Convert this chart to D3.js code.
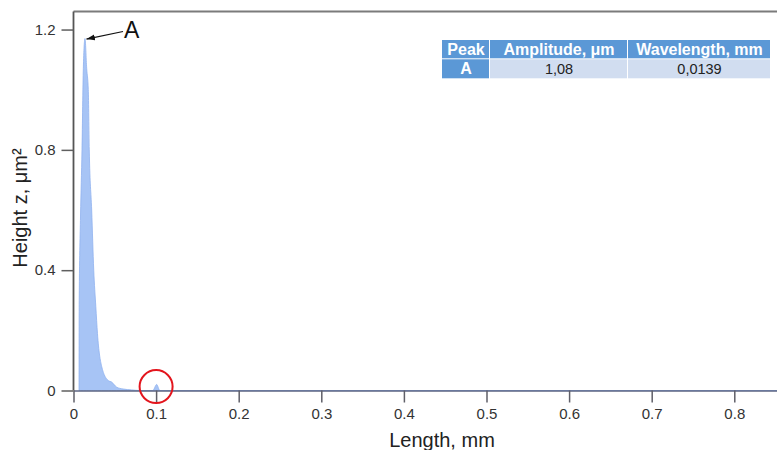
<!DOCTYPE html>
<html>
<head>
<meta charset="utf-8">
<script src="https://cdn.jsdelivr.net/npm/d3@7"></script>
<style>
  body { margin: 0; background: #fff; }
  svg { display: block; font-family: "Liberation Sans", Arial, sans-serif; }
</style>
</head>
<body>
<svg id="chart" width="777" height="450"></svg>
<script>
// spectrum values (length mm, height)
var lengths = [0.0067, 0.0069, 0.0085, 0.0103, 0.0119, 0.0139, 0.0160, 0.0179, 0.0191, 0.0220, 0.0245, 0.0270, 0.0290, 0.0341, 0.0421, 0.0462, 0.0523, 0.0600, 0.0705, 0.0800, 0.0960, 0.1007, 0.1045, 0.8600];
var heights = [0, 0.30, 0.58, 0.80, 1.07, 1.17, 1.07, 1.00, 0.80, 0.60, 0.40, 0.28, 0.19, 0.08, 0.033, 0.028, 0.011, 0.005, 0.002, 0, 0, 0.02, 0, 0];

var xMajorTicks = [0, 0.1, 0.2, 0.3, 0.4, 0.5, 0.6, 0.7, 0.8];
var xMinorTicks = [0.05, 0.15, 0.25, 0.35, 0.45, 0.55, 0.65, 0.75, 0.85];
var yMajorTicks = [0, 0.4, 0.8, 1.2];
var yMinorTicks = [0.2, 0.6, 1.0];

var tableHeader = ["Peak", "Amplitude, \u03bcm", "Wavelength, mm"];
var tableRow = ["A", "1,08", "0,0139"];

var peakLabel = "A";
var peakLength = 0.0139, peakHeight = 1.17;
var markLength = 0.1, markHeight = 0.013;

var svg = d3.select("#chart");

var x = d3.scaleLinear().domain([0, 0.8517]).range([73.5, 777]);
var y = d3.scaleLinear().domain([0, 1.26]).range([390.5, 11.5]);

var data = lengths.map(function (d, i) { return { x: d, y: heights[i] }; });

// filled spectrum
var area = d3.area()
  .curve(d3.curveMonotoneX)
  .x(function (d) { return x(d.x); })
  .y0(y(0))
  .y1(function (d) { return y(d.y); });

svg.append("path")
  .datum(data)
  .attr("d", area)
  .attr("fill", "#a7c4f5")
  .attr("stroke", "#8fb1ef")
  .attr("stroke-width", 0.8);

// top frame line
svg.append("line")
  .attr("x1", x(0)).attr("x2", 777)
  .attr("y1", 11.5).attr("y2", 11.5)
  .attr("stroke", "#7b7b7b").attr("stroke-width", 1.8);

// x axis
var xAxis = svg.append("g").attr("transform", "translate(0," + y(0) + ")");
xAxis.call(d3.axisBottom(x).tickValues(xMinorTicks).tickSize(6).tickFormat(""));
xAxis.call(d3.axisBottom(x).tickValues(xMajorTicks).tickSize(12).tickSizeOuter(0).tickPadding(6).tickFormat(d3.format("~g")));
xAxis.selectAll(".domain").attr("stroke", "#5d6482").attr("stroke-width", 1.6);
xAxis.selectAll(".tick line").attr("stroke", "#5f5f68").attr("stroke-width", 1.5);
xAxis.selectAll(".tick text").attr("font-size", 15).attr("fill", "#333");

// y axis
var yAxis = svg.append("g").attr("transform", "translate(" + x(0) + ",0)");
yAxis.call(d3.axisLeft(y).tickValues(yMinorTicks).tickSize(7).tickFormat(""));
yAxis.call(d3.axisLeft(y).tickValues(yMajorTicks).tickSize(12).tickSizeOuter(0).tickPadding(6).tickFormat(d3.format("~g")));
yAxis.selectAll(".domain").attr("stroke", "#555").attr("stroke-width", 1.8)
  .attr("d", "M0," + 11.5 + "V" + y(0));
yAxis.selectAll(".tick line").attr("stroke", "#5f5f5f").attr("stroke-width", 1.5);
yAxis.selectAll(".tick text").attr("font-size", 15).attr("fill", "#333");

// axis titles
svg.append("text")
  .attr("x", 442).attr("y", 447)
  .attr("text-anchor", "middle")
  .attr("font-size", 20).attr("fill", "#222")
  .text("Length, mm");

svg.append("text")
  .attr("transform", "translate(26.5,208) rotate(-90)")
  .attr("text-anchor", "middle")
  .attr("font-size", 20).attr("fill", "#222")
  .text("Height z, \u03bcm\u00b2");

// peak annotation
svg.append("defs").append("marker")
  .attr("id", "arrow")
  .attr("viewBox", "0 0 10 10")
  .attr("refX", 10).attr("refY", 5)
  .attr("markerWidth", 7).attr("markerHeight", 7)
  .attr("orient", "auto")
  .append("path").attr("d", "M0,1.5L10,5L0,8.5Z").attr("fill", "#111");

svg.append("line")
  .attr("x1", 123).attr("y1", 31.5)
  .attr("x2", x(peakLength) + 1.5).attr("y2", y(peakHeight) + 0.5)
  .attr("stroke", "#111").attr("stroke-width", 1.2)
  .attr("marker-end", "url(#arrow)");

svg.append("text")
  .attr("x", 124).attr("y", 37.5)
  .attr("font-size", 23).attr("fill", "#111")
  .text(peakLabel);

// red circle on the small peak
svg.append("circle")
  .attr("cx", x(markLength)).attr("cy", y(markHeight))
  .attr("r", 16.5)
  .attr("fill", "none")
  .attr("stroke", "#e3151d")
  .attr("stroke-width", 2);

// table
var colX = [442, 490, 628, 771];
var rowY = [40, 59.3, 79.3];
var table = svg.append("g");
[tableHeader, tableRow].forEach(function (row, r) {
  row.forEach(function (txt, c) {
    var head = r === 0 || c === 0;
    table.append("rect")
      .attr("x", colX[c]).attr("y", rowY[r])
      .attr("width", colX[c + 1] - colX[c] - 1)
      .attr("height", rowY[r + 1] - rowY[r] - 1)
      .attr("fill", head ? "#5b98d6" : "#d1ddf0");
    table.append("text")
      .attr("x", (colX[c] + colX[c + 1]) / 2)
      .attr("y", rowY[r] + 14.5)
      .attr("text-anchor", "middle")
      .attr("font-size", head ? 16 : 14.5)
      .attr("font-weight", head ? "bold" : "normal")
      .attr("fill", head ? "#fff" : "#222")
      .text(txt);
  });
});
</script>
</body>
</html>
